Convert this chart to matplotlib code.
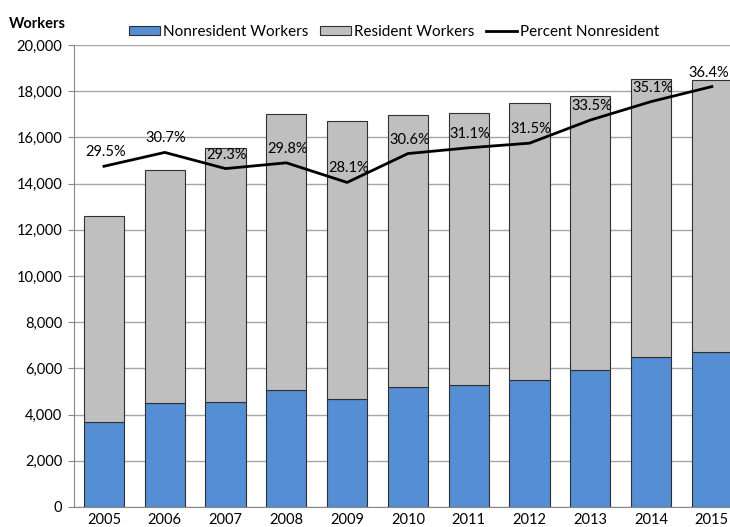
import matplotlib.pyplot as plt
import numpy as np
from matplotlib.ticker import FuncFormatter

plt.rcParams['font.family'] = ['Lato', 'DejaVu Sans']

years = ['2005', '2006', '2007', '2008', '2009', '2010', '2011', '2012', '2013', '2014', '2015']
nonresident = [3700, 4480, 4540, 5060, 4690, 5190, 5290, 5480, 5950, 6490, 6720]
resident = [8900, 10130, 10990, 11950, 12030, 11800, 11770, 12000, 11850, 12020, 11770]
pct_nonres = [29.5, 30.7, 29.3, 29.8, 28.1, 30.6, 31.1, 31.5, 33.5, 35.1, 36.4]

blue = '#558ED5'
gray = '#BFBFBF'

fig = plt.figure(figsize=(7.3, 5.27), dpi=100)
ax = fig.add_axes([0.1008, 0.038, 0.916, 0.8766])
x = np.arange(len(years))

b1 = ax.bar(x, nonresident, width=0.66, color=blue, edgecolor='#303030', linewidth=0.8, zorder=3)
b2 = ax.bar(x, resident, bottom=nonresident, width=0.66, color=gray, edgecolor='#303030',
            linewidth=0.8, zorder=3)

ax.set_xlim(-0.5, len(years) - 0.5)
ax.set_ylim(0, 20000)
ax.set_yticks(range(0, 20001, 2000))
ax.yaxis.set_major_formatter(FuncFormatter(lambda v, p: f'{int(v):,}'))
ax.set_xticks(x)
ax.set_xticklabels(years)
ax.tick_params(axis='both', labelsize=10.5, colors='black')
ax.tick_params(axis='y', length=4, color='#888888', pad=4)
ax.tick_params(axis='x', length=0, pad=4)
ax.grid(axis='y', color='#A6A6A6', linewidth=1, zorder=0)
for s in ['top', 'right']:
    ax.spines[s].set_visible(False)
ax.spines['left'].set_color('#888888')
ax.spines['bottom'].set_color('#888888')

# percent line on a hidden secondary scale 0-40%
ax2 = ax.twinx()
ax2.set_ylim(0, 40)
ln, = ax2.plot(x, pct_nonres, color='black', linewidth=2, zorder=5)
ax2.axis('off')
for i, (xi, p) in enumerate(zip(x, pct_nonres)):
    dx = -2 if i == len(x) - 1 else 1
    ax2.annotate(f'{p}%', (xi, p), xytext=(dx, 5), textcoords='offset points',
                 ha='center', va='bottom', fontsize=10.5, annotation_clip=False)

fig.text(0.012, 0.955, 'Workers', fontsize=10.5, fontweight='bold', ha='left', va='center')

leg = fig.legend([b1, b2, ln], ['Nonresident Workers', 'Resident Workers', 'Percent Nonresident'],
                 loc='center', bbox_to_anchor=(0.54, 0.940), ncol=3, frameon=False,
                 fontsize=11, handlelength=2.0, handleheight=0.5, handletextpad=0.2,
                 columnspacing=0.8)

fig.savefig('out.png', dpi=100)
